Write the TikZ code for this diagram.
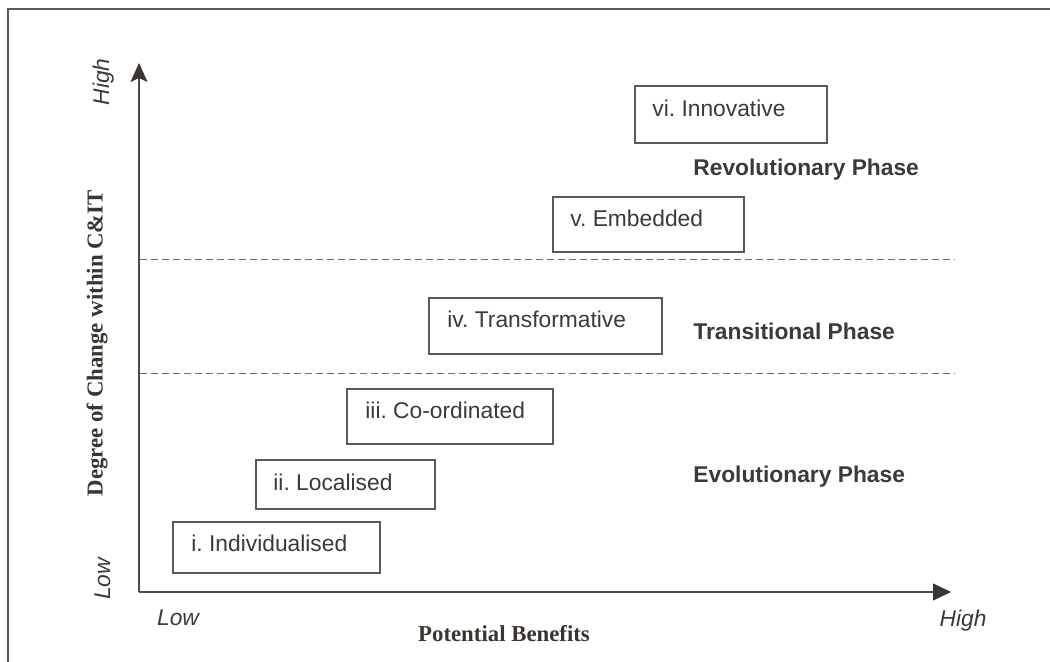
\documentclass[tikz,border=0pt]{standalone}
\usepackage{fontspec}
\setmainfont{Liberation Sans}
\newfontfamily\serifbold{Liberation Serif}
\usetikzlibrary{arrows.meta,calc}
\definecolor{ink}{HTML}{3A3A3A}
\definecolor{boxc}{HTML}{5A5A5A}
\definecolor{axisc}{HTML}{4A4A4A}
\definecolor{headc}{HTML}{3A352F}
\definecolor{dashc}{HTML}{6A6A6A}
\frenchspacing
\begin{document}
\begin{tikzpicture}[x=0.5pt,y=-0.5pt,
  stagebox/.style={draw=boxc, line width=0.75pt, inner sep=0pt, fill=white},
  stagelab/.style={anchor=base west, text=ink, inner sep=0pt, font=\frenchspacing\fontsize{11.4}{13}\selectfont},
  phaselab/.style={anchor=base west, text=ink, inner sep=0pt, font=\fontsize{11.4}{13}\selectfont\bfseries},
  axistitle/.style={text=headc, inner sep=0pt, font=\serifbold\fontsize{11.4}{13}\selectfont\bfseries},
  ticklab/.style={anchor=base, text=ink, inner sep=0pt, font=\fontsize{11.4}{13}\selectfont\itshape},
  phaseline/.style={draw=dashc, line width=0.5pt, dash pattern=on 3.5pt off 2pt},
  axisline/.style={draw=axisc, line width=0.75pt}
]
\useasboundingbox (0,0) rectangle (1050,662);
% frame
\draw[boxc, line width=0.8pt] (8,662) -- (8,9) -- (1050,9);

% axes
\coordinate (O) at (139,592);
\coordinate (Ytip) at (139,63);
\coordinate (Xtip) at (951,592);
\draw[axisline, -{Stealth[length=9.5pt,width=8.5pt,inset=2pt,color=headc]}] (O) -- (Ytip);
\draw[axisline, -{Triangle[length=9pt,width=8.5pt,color=headc]}] (O) -- (Xtip);

% phase separators
\coordinate (d1a) at (140,260);
\coordinate (d1b) at (955,260);
\coordinate (d2a) at (140,374);
\coordinate (d2b) at (955,374);
\draw[phaseline] (d1a) -- (d1b);
\draw[phaseline] (d2a) -- (d2b);

% stage boxes
\node[stagebox, minimum width=103.5pt, minimum height=25.5pt] (b1) at (276.5,547.5) {};
\node[stagebox, minimum width=89.5pt, minimum height=24.5pt] (b2) at (345.5,484.5) {};
\node[stagebox, minimum width=103pt, minimum height=27.5pt] (b3) at (450,416.5) {};
\node[stagebox, minimum width=116.5pt, minimum height=28pt] (b4) at (545.5,326) {};
\node[stagebox, minimum width=95.5pt, minimum height=27.5pt] (b5) at (648.5,224.5) {};
\node[stagebox, minimum width=96pt, minimum height=28.5pt] (b6) at (731,114.5) {};

\node[stagelab] (t1) at (191,552) {i. Individualised};
\node[stagelab] (t2) at (273,491) {ii. Localised};
\node[stagelab] (t3) at (365,419) {iii. Co-ordinated};
\node[stagelab] (t4) at (447,328) {iv. Transformative};
\node[stagelab] (t5) at (570,227) {v. Embedded};
\node[stagelab] (t6) at (652,117) {vi. Innovative};

% phase labels
\node[phaselab] (p1) at (693,176) {Revolutionary Phase};
\node[phaselab] (p2) at (693,340) {Transitional Phase};
\node[phaselab] (p3) at (693,483) {Evolutionary Phase};

% axis titles
\node[axistitle, rotate=90] (ytitle) at (97,343) {Degree of Change within C\&IT};
\node[axistitle, anchor=base] (xtitle) at (504,641) {Potential Benefits};

% tick labels
\node[ticklab, rotate=90] (yhigh) at (109,82) {High};
\node[ticklab, rotate=90] (ylow) at (110,579) {Low};
\node[ticklab] (xlow) at (178,625) {Low};
\node[ticklab] (xhigh) at (963,626) {High};
\end{tikzpicture}
\end{document}
